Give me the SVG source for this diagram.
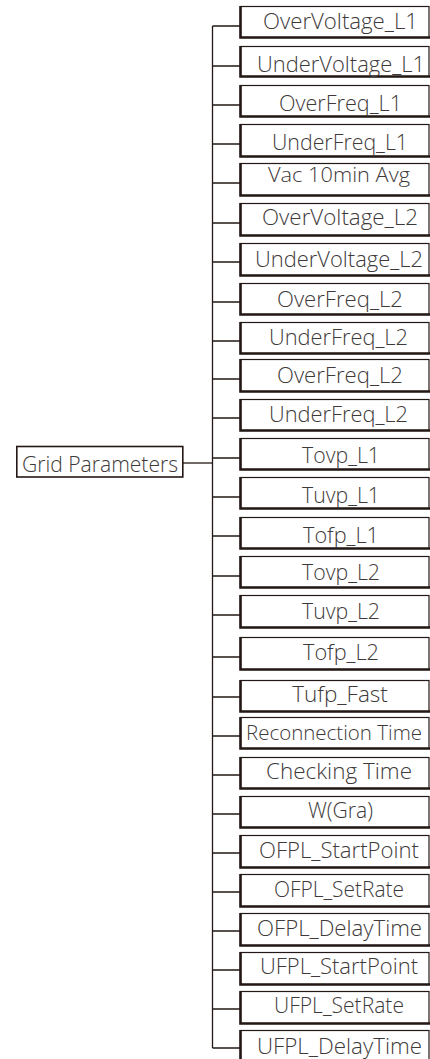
<svg xmlns="http://www.w3.org/2000/svg" width="430" height="1059" viewBox="0 0 430 1059">
<style>
.bx{fill:#fff;stroke:#231815;stroke-width:1.2}
.sh{fill:none;stroke:#231815;stroke-width:2.6}
.ln{fill:none;stroke:#231815;stroke-width:1.3}
.t{font-family:"Open Sans","Liberation Sans",sans-serif;font-weight:300;font-size:22.5px;fill:#3e3a3a;text-anchor:middle}
.g{fill:#fff;stroke:#231815;stroke-width:1.6}
</style>
<rect width="430" height="1059" fill="#fff"/>
<g id="connectors">
<path class="ln" d="M212.5,26V1048"/>
<path class="ln" d="M183,463H212.5"/>
<path class="ln" d="M212.5,26H240M212.5,66H240M212.5,105H240M212.5,144H240M212.5,183H240M212.5,223H240M212.5,262H240M212.5,302H240M212.5,341H240M212.5,379H240M212.5,418H240M212.5,458H240M212.5,497H240M212.5,536H240M212.5,576H240M212.5,615H240M212.5,657H240M212.5,697H240M212.5,736H240M212.5,775H240M212.5,814H240M212.5,853H240M212.5,892H240M212.5,931H240M212.5,970H240M212.5,1009H240M212.5,1048H240"/>
</g>
<g id="grid-parameters">
<rect class="g" x="16.8" y="446.5" width="166" height="30.5"/>
<text class="t" x="100" y="472" textLength="156" lengthAdjust="spacingAndGlyphs">Grid Parameters</text>
</g>
<g id="n1"><rect class="bx" x="240.5" y="6.5" width="188.5" height="31"/><path class="sh" d="M240.5,6V37.5H430"/><text class="t" x="340.5" y="29" textLength="155" lengthAdjust="spacingAndGlyphs">OverVoltage_L1</text></g>
<g id="n2"><rect class="bx" x="240.5" y="46.5" width="188.5" height="30"/><path class="sh" d="M240.5,46V76.5H430"/><text class="t" x="341" y="71.5" textLength="168" lengthAdjust="spacingAndGlyphs">UnderVoltage_L1</text></g>
<g id="n3"><rect class="bx" x="240.5" y="85.5" width="188.5" height="31"/><path class="sh" d="M240.5,85V116.5H430"/><text class="t" x="340.5" y="111" textLength="123" lengthAdjust="spacingAndGlyphs">OverFreq_L1</text></g>
<g id="n4"><rect class="bx" x="240.5" y="124.5" width="188.5" height="32"/><path class="sh" d="M240.5,124V156.5H430"/><text class="t" x="340" y="150" textLength="136" lengthAdjust="spacingAndGlyphs">UnderFreq_L1</text></g>
<g id="n5"><rect class="bx" x="240.5" y="163.5" width="188.5" height="32"/><path class="sh" d="M240.5,163V195.5H430"/><text class="t" x="339" y="182" textLength="142" lengthAdjust="spacingAndGlyphs" style="font-size:21px">Vac 10min Avg</text></g>
<g id="n6"><rect class="bx" x="240.5" y="203.5" width="188.5" height="32"/><path class="sh" d="M240.5,203V235.5H430"/><text class="t" x="340" y="225" textLength="156" lengthAdjust="spacingAndGlyphs">OverVoltage_L2</text></g>
<g id="n7"><rect class="bx" x="240.5" y="243.5" width="188.5" height="32"/><path class="sh" d="M240.5,243V275.5H430"/><text class="t" x="339" y="267" textLength="168" lengthAdjust="spacingAndGlyphs">UnderVoltage_L2</text></g>
<g id="n8"><rect class="bx" x="240.5" y="283.5" width="188.5" height="31"/><path class="sh" d="M240.5,283V314.5H430"/><text class="t" x="340" y="307" textLength="126" lengthAdjust="spacingAndGlyphs">OverFreq_L2</text></g>
<g id="n9"><rect class="bx" x="240.5" y="322.5" width="188.5" height="31"/><path class="sh" d="M240.5,322V353.5H430"/><text class="t" x="338.5" y="345" textLength="139" lengthAdjust="spacingAndGlyphs">UnderFreq_L2</text></g>
<g id="n10"><rect class="bx" x="240.5" y="359.5" width="188.5" height="32"/><path class="sh" d="M240.5,359V391.5H430"/><text class="t" x="340" y="383" textLength="126" lengthAdjust="spacingAndGlyphs">OverFreq_L2</text></g>
<g id="n11"><rect class="bx" x="240.5" y="399.5" width="188.5" height="31"/><path class="sh" d="M240.5,399V430.5H430"/><text class="t" x="338.5" y="422" textLength="139" lengthAdjust="spacingAndGlyphs">UnderFreq_L2</text></g>
<g id="n12"><rect class="bx" x="240.5" y="438.5" width="188.5" height="31"/><path class="sh" d="M240.5,438V469.5H430"/><text class="t" x="341" y="463" textLength="78" lengthAdjust="spacingAndGlyphs">Tovp_L1</text></g>
<g id="n13"><rect class="bx" x="240.5" y="477.5" width="188.5" height="31"/><path class="sh" d="M240.5,477V508.5H430"/><text class="t" x="341" y="503" textLength="78" lengthAdjust="spacingAndGlyphs">Tuvp_L1</text></g>
<g id="n14"><rect class="bx" x="240.5" y="517.5" width="188.5" height="31"/><path class="sh" d="M240.5,517V548.5H430"/><text class="t" x="341" y="543" textLength="76" lengthAdjust="spacingAndGlyphs">Tofp_L1</text></g>
<g id="n15"><rect class="bx" x="240.5" y="556.5" width="188.5" height="31"/><path class="sh" d="M240.5,556V587.5H430"/><text class="t" x="341" y="580" textLength="78" lengthAdjust="spacingAndGlyphs">Tovp_L2</text></g>
<g id="n16"><rect class="bx" x="240.5" y="595.5" width="188.5" height="32"/><path class="sh" d="M240.5,595V627.5H430"/><text class="t" x="341" y="619" textLength="78" lengthAdjust="spacingAndGlyphs">Tuvp_L2</text></g>
<g id="n17"><rect class="bx" x="240.5" y="637.5" width="188.5" height="32"/><path class="sh" d="M240.5,637V669.5H430"/><text class="t" x="341" y="660" textLength="76" lengthAdjust="spacingAndGlyphs">Tofp_L2</text></g>
<g id="n18"><rect class="bx" x="240.5" y="680.5" width="188.5" height="31"/><path class="sh" d="M240.5,680V711.5H430"/><text class="t" x="340" y="702">Tufp_Fast</text></g>
<g id="n19"><rect class="bx" x="240.5" y="717.5" width="188.5" height="31"/><path class="sh" d="M240.5,717V748.5H430"/><text class="t" x="334" y="740" style="font-size:19.5px" textLength="176" lengthAdjust="spacingAndGlyphs">Reconnection Time</text></g>
<g id="n20"><rect class="bx" x="240.5" y="757.5" width="188.5" height="31"/><path class="sh" d="M240.5,757V788.5H430"/><text class="t" x="339" y="779" textLength="146" lengthAdjust="spacingAndGlyphs">Checking Time</text></g>
<g id="n21"><rect class="bx" x="240.5" y="796.5" width="188.5" height="31"/><path class="sh" d="M240.5,796V827.5H430"/><text class="t" x="340.5" y="818" textLength="65" lengthAdjust="spacingAndGlyphs">W(Gra)</text></g>
<g id="n22"><rect class="bx" x="240.5" y="835.5" width="188.5" height="32"/><path class="sh" d="M240.5,835V867.5H430"/><text class="t" x="339" y="858" textLength="160" lengthAdjust="spacingAndGlyphs">OFPL_StartPoint</text></g>
<g id="n23"><rect class="bx" x="240.5" y="874.5" width="188.5" height="32"/><path class="sh" d="M240.5,874V906.5H430"/><text class="t" x="339" y="897" textLength="130" lengthAdjust="spacingAndGlyphs">OFPL_SetRate</text></g>
<g id="n24"><rect class="bx" x="240.5" y="913.5" width="188.5" height="32"/><path class="sh" d="M240.5,913V945.5H430"/><text class="t" x="339.5" y="936" textLength="165" lengthAdjust="spacingAndGlyphs">OFPL_DelayTime</text></g>
<g id="n25"><rect class="bx" x="240.5" y="952.5" width="188.5" height="32"/><path class="sh" d="M240.5,952V984.5H430"/><text class="t" x="339" y="974" textLength="158" lengthAdjust="spacingAndGlyphs">UFPL_StartPoint</text></g>
<g id="n26"><rect class="bx" x="240.5" y="991.5" width="188.5" height="32"/><path class="sh" d="M240.5,991V1023.5H430"/><text class="t" x="339" y="1013" textLength="130" lengthAdjust="spacingAndGlyphs">UFPL_SetRate</text></g>
<g id="n27"><rect class="bx" x="240.5" y="1030.5" width="188.5" height="40"/><path class="sh" d="M240.5,1030V1060"/><text class="t" x="339.5" y="1054" textLength="165" lengthAdjust="spacingAndGlyphs">UFPL_DelayTime</text></g>
</svg>
